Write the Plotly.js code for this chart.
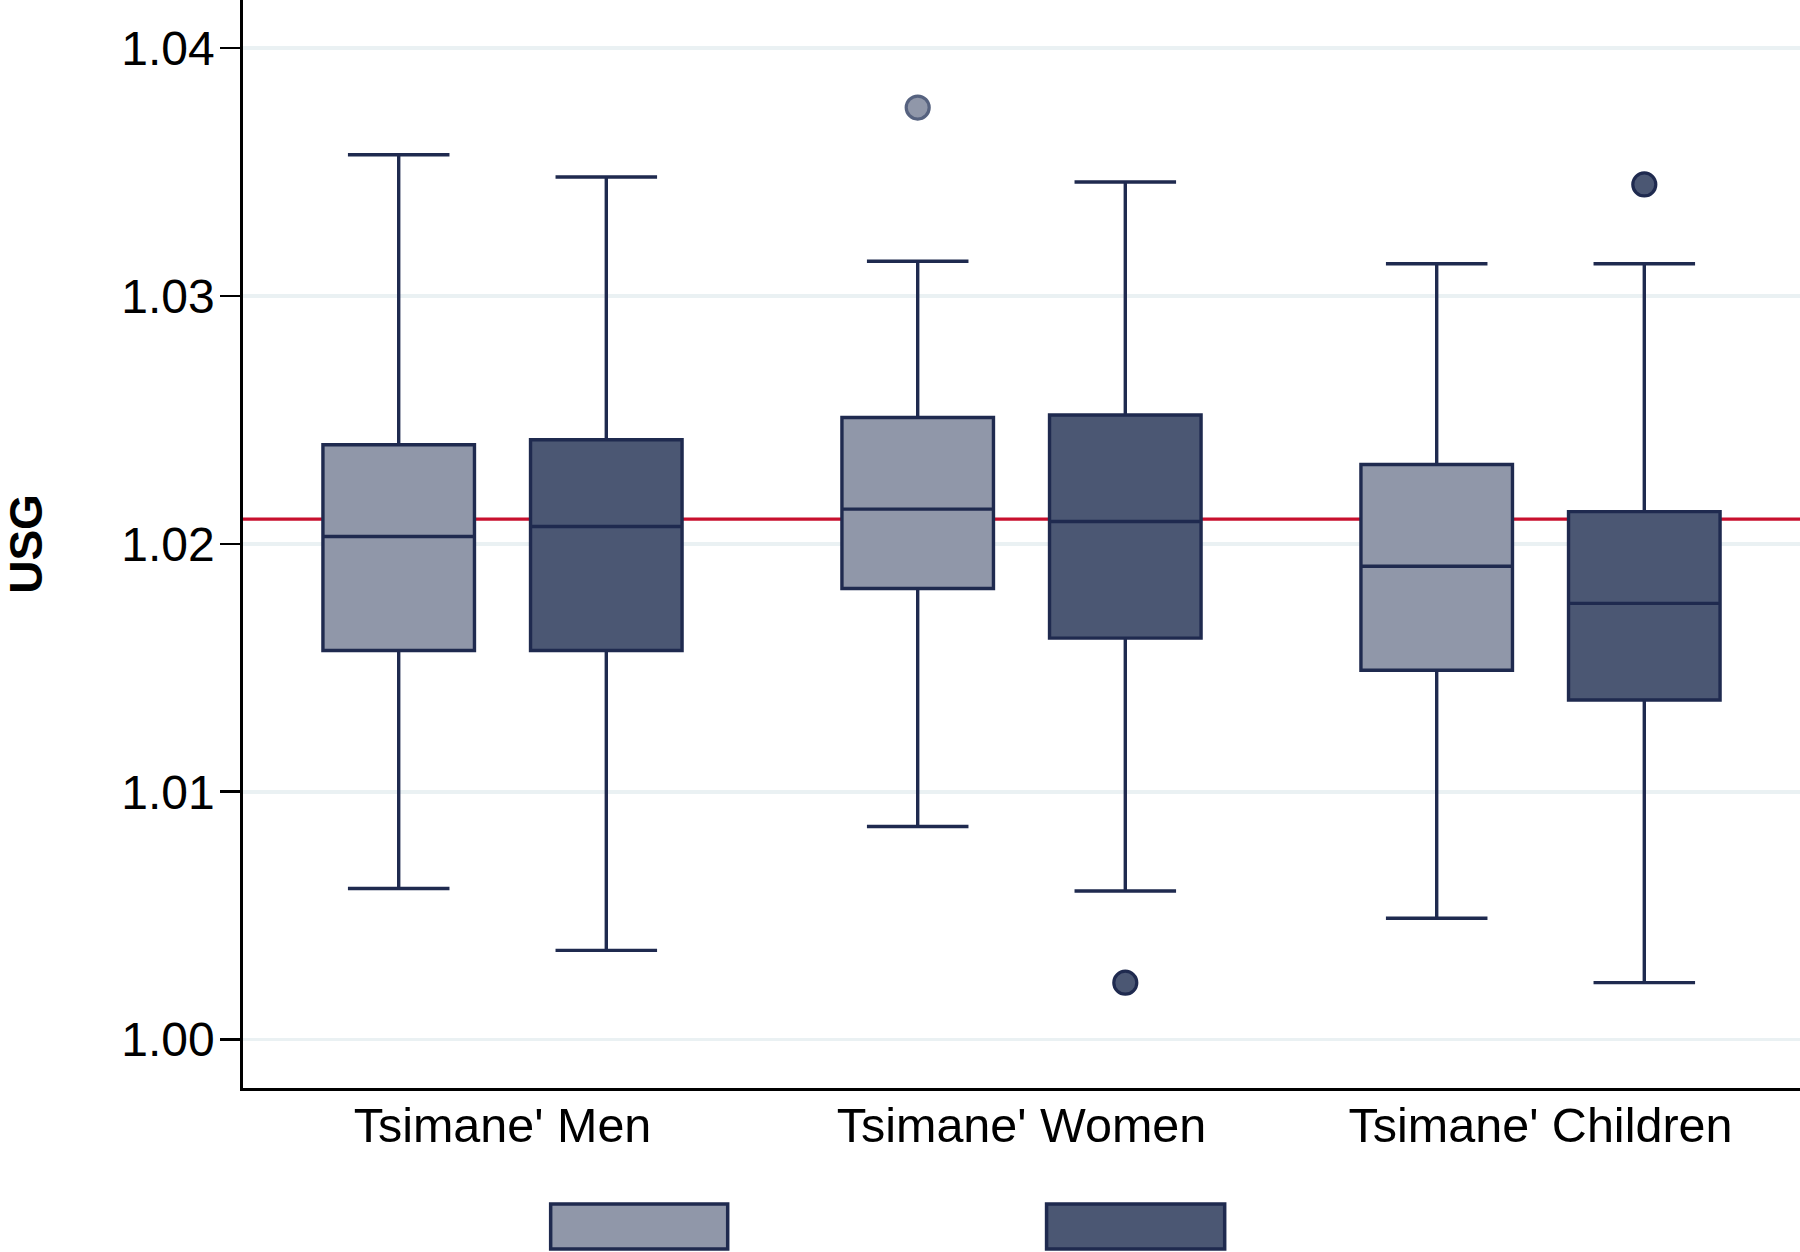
<!DOCTYPE html>
<html>
<head>
<meta charset="utf-8">
<script src="https://cdn.plot.ly/plotly-3.0.1.min.js"></script>
<style>html,body{margin:0;padding:0;background:#fff;}#chart{width:1800px;height:1252px;}</style>
</head>
<body>
<div id="chart"></div>
<script>
// ---- data ----
const categories = ["Tsimane' Men", "Tsimane' Women", "Tsimane' Children"];
const yTicks = [1.00, 1.01, 1.02, 1.03, 1.04];
const yTickLabels = ["1.00", "1.01", "1.02", "1.03", "1.04"];
const referenceLine = 1.021;

// series A (light)
const lightLower  = [1.0061, 1.0086, 1.0049];
const lightQ1     = [1.0157, 1.0182, 1.0149];
const lightMedian = [1.0203, 1.0214, 1.0191];
const lightQ3     = [1.0240, 1.0251, 1.0232];
const lightUpper  = [1.0357, 1.0314, 1.0313];
const lightOutliers = [[], [1.0376], []];

// series B (dark)
const darkLower  = [1.0036, 1.0060, 1.0023];
const darkQ1     = [1.0157, 1.0162, 1.0137];
const darkMedian = [1.0207, 1.0209, 1.0176];
const darkQ3     = [1.0242, 1.0252, 1.0213];
const darkUpper  = [1.0348, 1.0346, 1.0313];
const darkOutliers = [[], [1.0023], [1.0345]];

// ---- styles ----
const lightFill = '#9097a9';
const darkFill = '#4b5773';
const navy = '#1f2a4f';
const boxGap = 0.2;
const boxGroupGap = 0.27;

function boxTrace(name, lf, q1, med, q3, uf, fill) {
  return {
    type: 'box', name: name, x: categories,
    lowerfence: lf, q1: q1, median: med, q3: q3, upperfence: uf,
    boxpoints: false,
    fillcolor: fill, line: {color: navy, width: 3.4},
    whiskerwidth: 0.67,
    showlegend: false, hoverinfo: 'y'
  };
}

// outlier points, placed on a hidden numeric overlay axis matching category slots
function outlierTrace(outliers, side, fill, ptLine) {
  const slotOffset = (1 - boxGap) / 4 * side;
  const xs = [], ys = [];
  outliers.forEach((arr, i) => arr.forEach(v => { xs.push(i + slotOffset); ys.push(v); }));
  return {
    type: 'scatter', mode: 'markers', x: xs, y: ys, xaxis: 'x2', yaxis: 'y',
    marker: {color: fill, size: 23, line: {color: ptLine, width: 3.2}},
    showlegend: false, hoverinfo: 'y', cliponaxis: false
  };
}

const data = [
  boxTrace('A', lightLower, lightQ1, lightMedian, lightQ3, lightUpper, lightFill),
  boxTrace('B', darkLower, darkQ1, darkMedian, darkQ3, darkUpper, darkFill),
  outlierTrace(lightOutliers, -1, lightFill, '#56627f'),
  outlierTrace(darkOutliers, 1, darkFill, navy)
];

const layout = {
  width: 1800, height: 1252,
  margin: {l: 243, r: 0, t: 0, b: 164, pad: 0},
  paper_bgcolor: '#fff', plot_bgcolor: '#fff',
  boxmode: 'group', boxgap: boxGap, boxgroupgap: boxGroupGap,
  font: {family: 'Liberation Sans, Arial, sans-serif', color: '#000'},
  xaxis: {
    type: 'category', range: [-0.5, 2.5],
    showline: true, linecolor: '#000', linewidth: 2.7,
    ticks: '', showgrid: false, zeroline: false,
    tickfont: {size: 48.5, color: '#000'}, ticklabelstandoff: -7
  },
  xaxis2: {
    type: 'linear', range: [-0.5, 2.5], overlaying: 'x', visible: false,
    showgrid: false, zeroline: false
  },
  yaxis: {
    range: [0.99805, 1.04194],
    tickvals: yTicks, ticktext: yTickLabels,
    showline: true, linecolor: '#000', linewidth: 2.7,
    ticks: 'outside', ticklen: 20, tickwidth: 2.7, tickcolor: '#000',
    showgrid: true, gridcolor: '#eaf1f3', gridwidth: 3.5,
    zeroline: false,
    tickfont: {size: 48, color: '#000'}, ticklabelstandoff: -4,
    title: {text: '<b>USG</b>', font: {size: 46, color: '#000'}, standoff: 76}
  },
  shapes: [
    {type: 'line', xref: 'paper', x0: 0, x1: 1, yref: 'y', y0: referenceLine, y1: referenceLine,
     line: {color: '#c8102e', width: 3.4}, layer: 'below'},
    {type: 'rect', xref: 'paper', yref: 'paper', x0: 0.1976, x1: 0.3113, y0: -0.148, y1: -0.1066,
     fillcolor: lightFill, line: {color: navy, width: 3.5}},
    {type: 'rect', xref: 'paper', yref: 'paper', x0: 0.5161, x1: 0.6305, y0: -0.148, y1: -0.1066,
     fillcolor: darkFill, line: {color: navy, width: 3.5}}
  ]
};

Plotly.newPlot('chart', data, layout, {displayModeBar: false, staticPlot: true});
</script>
</body>
</html>
